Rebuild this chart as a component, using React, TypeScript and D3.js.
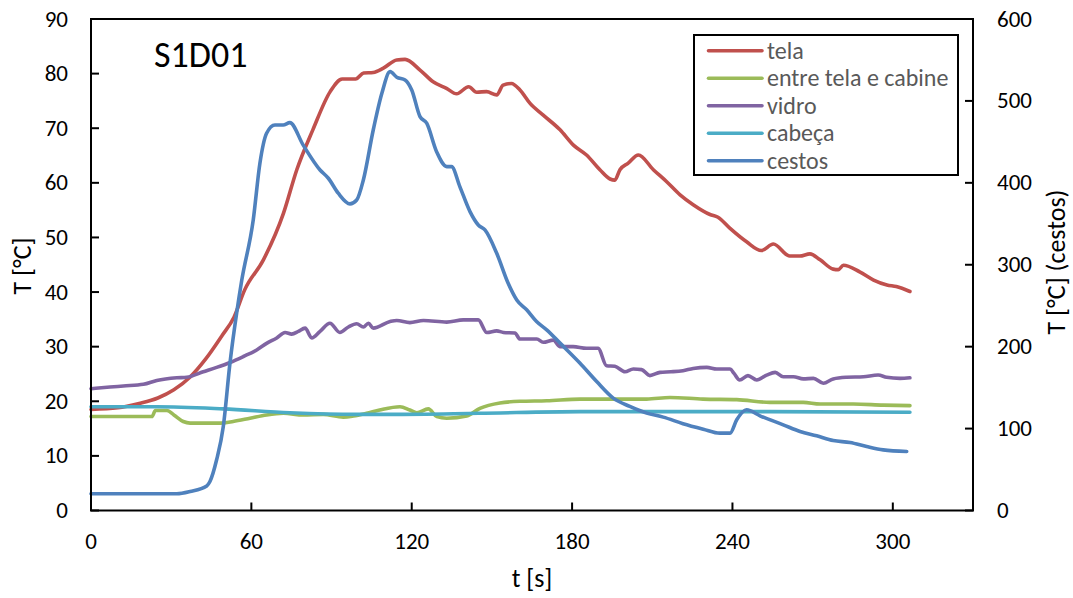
import React from "react";
import * as d3 from "d3";

const xTicks = [0, 60, 120, 180, 240, 300];
const yLeftTicks = [0, 10, 20, 30, 40, 50, 60, 70, 80, 90];
const yRightTicks = [0, 100, 200, 300, 400, 500, 600];

const seriesNames = ["tela", "entre tela e cabine", "vidro", "cabeça", "cestos"];
const seriesColors = ["#C0504D", "#9BBB59", "#8064A2", "#4BACC6", "#4F81BD"];

const telaT = [0, 10, 18, 25, 31, 37, 43, 49, 53.5, 57.5, 64.5, 72, 77, 83, 89.5, 94, 99, 102, 105.6, 109.4, 114.4, 117.5, 123, 128, 133, 136.8, 141.3, 144.3, 148, 151.8, 154.2, 157.3, 160.5, 164.2, 169.2, 175.5, 180.5, 185.4, 190.4, 194.2, 196, 197.9, 201, 204.8, 210.4, 215.4, 220.4, 225.3, 231.6, 234.6, 239, 245.3, 250.8, 255.3, 261.4, 265.2, 269, 272.8, 277.7, 279.6, 281.5, 287.6, 292.8, 297.8, 301.3, 306.4];
const telaV = [18.5, 18.8, 19.6, 20.6, 22.1, 24.4, 27.8, 32.0, 35.4, 40.4, 45.9, 54.4, 62.4, 69.7, 76.7, 79, 79, 80.1, 80.2, 81, 82.5, 82.6, 80.7, 78.5, 77.3, 76.3, 77.6, 76.6, 76.7, 76.1, 77.9, 78.2, 77, 74.6, 72.4, 69.7, 66.9, 65.1, 62.4, 60.7, 60.5, 62.4, 63.6, 65.1, 62.4, 60.2, 57.8, 56, 54.2, 53.7, 51.7, 49.2, 47.6, 48.8, 46.6, 46.6, 47, 45.9, 44.2, 44.1, 44.9, 43.7, 42.2, 41.3, 41, 40.1];

const entreT = [0, 22.8, 24.1, 28.4, 31, 34.5, 37.1, 48.3, 53.2, 59.5, 65.7, 72, 79.4, 86.9, 94.4, 98.2, 103.1, 108, 115.6, 119.3, 121.9, 126.2, 129.4, 133.1, 140.6, 145.5, 153, 160.5, 170.5, 183, 195.4, 207.9, 216.6, 229, 241.6, 254, 266.5, 272.8, 285.2, 296.4, 306.4];
const entreV = [17.2, 17.2, 18.3, 18.3, 17.5, 16.3, 16, 16, 16.3, 16.9, 17.5, 17.8, 17.5, 17.6, 17.1, 17.3, 17.8, 18.4, 19, 18.4, 17.9, 18.6, 17.2, 16.9, 17.3, 18.7, 19.7, 20, 20.1, 20.4, 20.4, 20.4, 20.7, 20.4, 20.3, 19.8, 19.8, 19.5, 19.5, 19.3, 19.2];

const vidroT = [0, 7.1, 12.1, 19.6, 24.6, 32.1, 35.8, 42, 47, 52, 57, 62, 65.7, 69.5, 72.6, 75.1, 77.6, 80.1, 82.6, 85.7, 89.4, 93.1, 96.3, 99.4, 101.9, 103.8, 105.6, 111.9, 114.4, 119.3, 124.4, 133.1, 139.3, 144.9, 148.1, 151.8, 154.3, 158.6, 160.5, 166.8, 169.2, 173, 175.4, 180.4, 185.4, 189.7, 192.9, 196, 199.8, 202.9, 206, 209.1, 212.9, 217, 221.5, 225.3, 230.4, 234.1, 239.1, 240.6, 242.7, 245.8, 249.1, 252.8, 256, 259, 262.8, 266.5, 270.3, 274, 277.7, 282.7, 289, 294.5, 297.7, 302.7, 306.4];
const vidroV = [22.3, 22.6, 22.8, 23.1, 23.8, 24.3, 24.4, 25.4, 26.2, 27.1, 28.2, 29.4, 30.6, 31.6, 32.6, 32.3, 32.8, 33.4, 31.6, 32.8, 34.3, 32.6, 33.6, 34.2, 33.6, 34.3, 33.4, 34.6, 34.8, 34.4, 34.8, 34.5, 34.9, 34.9, 32.6, 32.9, 32.6, 32.5, 31.4, 31.4, 30.8, 31.2, 30, 30, 29.7, 29.7, 26.5, 26.4, 25.4, 25.9, 25.8, 24.7, 25.3, 25.4, 25.6, 26, 26.2, 25.9, 25.9, 25.1, 23.9, 24.7, 23.9, 24.8, 25.3, 24.5, 24.5, 24.1, 24.2, 23.3, 24.1, 24.4, 24.5, 24.8, 24.4, 24.2, 24.3];

const cabecaT = [0, 24.6, 49.5, 74.4, 99.4, 111.9, 145, 183, 220.4, 254, 306.4];
const cabecaV = [19.0, 19.0, 18.6, 17.9, 17.6, 17.6, 17.8, 18.1, 18.1, 18.1, 18.0];

const cestosT = [0, 32.1, 37.1, 43.3, 44.5, 47, 49.5, 52, 54.5, 56.4, 60.7, 63.2, 65.7, 68.8, 71.9, 74.4, 79.4, 85.7, 88.8, 92.5, 96.9, 99.4, 101.9, 105.6, 108.8, 111.9, 114.4, 117.5, 120, 123.1, 125.6, 129.3, 133.1, 134.9, 138, 141.8, 144.9, 147.4, 151.8, 156, 159.3, 163, 166.7, 170.5, 175.5, 182.9, 189.2, 195.4, 201.6, 207.9, 214.1, 221.5, 229.1, 235.3, 239.1, 241.6, 245.3, 250.3, 259, 265.3, 271.5, 277.7, 284, 290.2, 296.4, 305.2];
const cestosV = [20.4, 20.4, 23.2, 30, 35.4, 61.9, 102.5, 180, 241, 281, 354.7, 424, 460.5, 470.6, 470.6, 473.5, 446, 415.7, 405.6, 387.3, 374.3, 379, 403.5, 464.5, 509, 535.7, 528.9, 525.6, 513.4, 480.8, 472.8, 438, 419.8, 419.8, 395.4, 364.9, 348.6, 342.5, 314, 278, 257, 245, 230.6, 220.5, 204.3, 180, 157.4, 137.2, 127, 118.9, 114, 106, 99.3, 94.4, 94.4, 110.7, 122.9, 115.6, 104.6, 96.4, 91.2, 85.4, 83, 78.1, 74, 72];

const FONT = "Calibri, Carlito, 'Open Sans', sans-serif";

export default function App() {
  const W = 1073, H = 598;
  const x = d3.scaleLinear().domain([0, 330]).range([91, 973]);
  const yL = d3.scaleLinear().domain([0, 90]).range([510.5, 19]);
  const yR = d3.scaleLinear().domain([0, 600]).range([510.5, 19]);

  const mk = (ts: number[], vs: number[], ys: d3.ScaleLinear<number, number>) => {
    const pts: [number, number][] = ts.map((t, i) => [t, vs[i]]);
    return d3
      .line<[number, number]>()
      .x((d) => x(d[0]))
      .y((d) => ys(d[1]))
      .curve(d3.curveMonotoneX)(pts) as string;
  };

  const paths = [
    mk(telaT, telaV, yL),
    mk(entreT, entreV, yL),
    mk(vidroT, vidroV, yL),
    mk(cabecaT, cabecaV, yL),
    mk(cestosT, cestosV, yR),
  ];

  const x0 = x(0), x1 = x(330), yb = yL(0), yt = yL(90);

  return (
    <svg width={W} height={H} style={{ position: "absolute", left: 0, top: 0, display: "block", background: "#fff" }} fontFamily={FONT}>
      <rect x={0} y={0} width={W} height={H} fill="#fff" />
      <g fill="none" strokeWidth={3.6} strokeLinejoin="round" strokeLinecap="round">
        {paths.map((p, i) => (
          <path key={i} d={p} stroke={seriesColors[i]} />
        ))}
      </g>
      <rect x={x0} y={yt} width={x1 - x0} height={yb - yt} fill="none" stroke="#000" strokeWidth={2} />
      {xTicks.map((t) => (
        <g key={"x" + t}>
          <line x1={x(t)} x2={x(t)} y1={yb} y2={yb - 8} stroke="#000" strokeWidth={2} />
          <text x={x(t)} y={548.5} textAnchor="middle" fontSize={23} fill="#000">{t}</text>
        </g>
      ))}
      {yLeftTicks.map((v) => (
        <g key={"yl" + v}>
          <line x1={x0} x2={x0 + 8} y1={yL(v)} y2={yL(v)} stroke="#000" strokeWidth={2} />
          <text x={68} y={yL(v) + 7.5} textAnchor="end" fontSize={23} fill="#000">{v}</text>
        </g>
      ))}
      {yRightTicks.map((v) => (
        <g key={"yr" + v}>
          <line x1={x1} x2={x1 - 8} y1={yR(v)} y2={yR(v)} stroke="#000" strokeWidth={2} />
          <text x={997} y={yR(v) + 7.5} textAnchor="start" fontSize={23} fill="#000">{v}</text>
        </g>
      ))}
      <text x={532} y={587} textAnchor="middle" fontSize={26} fill="#000">t [s]</text>
      <text transform="translate(31,266) rotate(-90)" textAnchor="middle" fontSize={26} fill="#000">T [°C]</text>
      <text transform="translate(1065,262) rotate(-90)" textAnchor="middle" fontSize={26} fill="#000">T [°C] (cestos)</text>
      <text x={154} y={66.5} fontSize={36} fill="#000">S1D01</text>
      <rect x={694} y={35} width={264} height={140} fill="#fff" stroke="#000" strokeWidth={2} />
      {seriesNames.map((n, i) => {
        const ly = 50.7 + i * 27.5;
        return (
          <g key={n}>
            <line x1={708.5} x2={762} y1={ly} y2={ly} stroke={seriesColors[i]} strokeWidth={3.6} strokeLinecap="round" />
            <text x={767} y={ly + 8} fontSize={24} fill="#595959">{n}</text>
          </g>
        );
      })}
    </svg>
  );
}
